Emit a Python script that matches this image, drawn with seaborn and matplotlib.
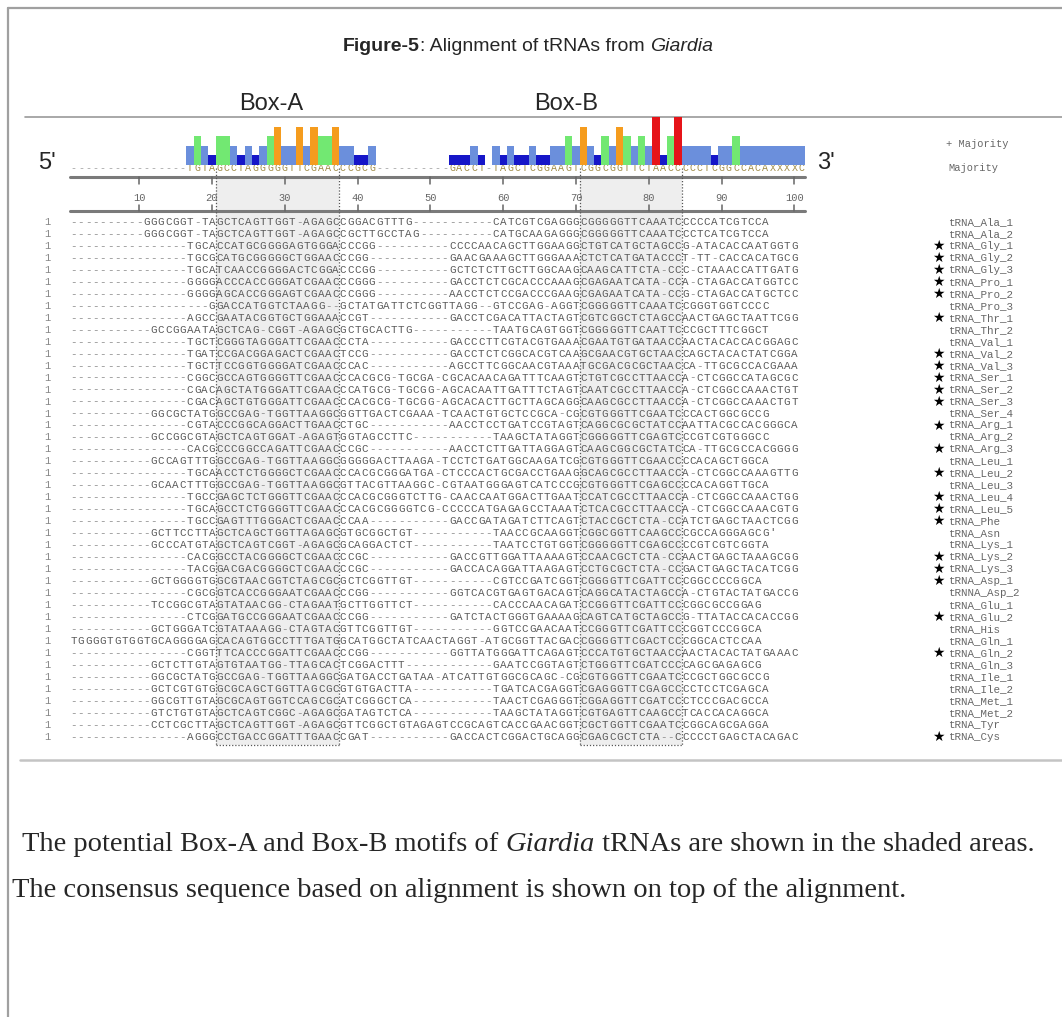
import matplotlib
matplotlib.use('Agg')
import matplotlib.pyplot as plt
import seaborn as sns
import pandas as pd
from matplotlib.patches import Rectangle

# Majority (consensus) sequence and bar strength per alignment column
majority = ('-' * 16 + 'TGTAGCCTAGGGGGTTCGAACCCGCG').ljust(52, '-') + \
    'GACCT-TAGCTCGGAAGTCGGCGGTTCTAACCCCCTCGGCCACAXXXXC'
majority_level = ([0] * 16 +
                  [2, 3, 2, 1, 3, 3, 2, 1, 2, 1, 2, 3, 4, 2, 2, 4, 2, 4, 3, 3, 4, 2, 2, 1, 1, 2] +
                  [0] * 10 +
                  [1, 1, 1, 2, 1, 0, 2, 1, 2, 1, 1, 2, 1, 1, 2, 2, 3, 2, 4, 2, 1, 3, 2, 4, 3, 2,
                   3, 2, 5, 1, 3, 5, 2, 2, 2, 2, 1, 2, 2, 3, 2, 2, 2, 2, 2, 2, 2, 2, 2])
level_colors = {'L1': '#1616c8', 'L2': '#6b8fdc', 'L3': '#72e872',
                'L4': '#f59c1e', 'L5': '#e61419'}

# aligned tRNA sequences: (start column, left block, start column of right block, right block)
segments = [
    (10, 'GGGCGGT-TAGCTCAGTTGGT-AGAGCCGGACGTTTG', 58, 'CATCGTCGAGGGCGGGGGTTCAAATCCCCCATCGTCCA'),
    (10, 'GGGCGGT-TAGCTCAGTTGGT-AGAGCCGCTTGCCTAG', 58, 'CATGCAAGAGGGCGGGGGTTCAAATCCCTCATCGTCCA'),
    (16, 'TGCACCATGCGGGGAGTGGGACCCGG', 52, 'CCCCAACAGCTTGGAAGGCTGTCATGCTAGCCG-ATACACCAATGGTG'),
    (16, 'TGCGCATGCGGGGGCTGGAACCCGG', 52, 'GAACGAAAGCTTGGGAAACTCTCATGATACCCT-TT-CACCACATGCG'),
    (16, 'TGCATCAACCGGGGACTCGGACCCGG', 52, 'GCTCTCTTGCTTGGCAAGCAAGCATTCTA-CCC-CTAAACCATTGATG'),
    (16, 'GGGGACCCACCGGGATCGAACCCGGG', 52, 'GACCTCTCGCACCCAAAGCGAGAATCATA-CCA-CTAGACCATGGTCC'),
    (16, 'GGGGAGCACCGGGAGTCGAACCCGGG', 52, 'AACCTCTCCGACCCGAAGCGAGAATCATA-CCG-CTAGACCATGCTCC'),
    (19, 'GGACCATGGTCTAAGG--GCTATGATTCTCGGTTAGG--GTCCGAG-AGGTCGGGGGTTCAAATCCGGGTGGTCCCC', None, ''),
    (16, 'AGCCGAATACGGTGCTGGAAACCGT', 52, 'GACCTCGACATTACTAGTCGTCGGCTCTAGCCAACTGAGCTAATTCGG'),
    (11, 'GCCGGAATAGCTCAG-CGGT-AGAGCGCTGCACTTG', 58, 'TAATGCAGTGGTCGGGGGTTCAATTCCCGCTTTCGGCT'),
    (16, 'TGCTCGGGTAGGGATTCGAACCCTA', 52, 'GACCCTTCGTACGTGAAACGAATGTGATAACCAACTACACCACGGAGC'),
    (16, 'TGATCCGACGGAGACTCGAACTCCG', 52, 'GACCTCTCGGCACGTCAAGCGAACGTGCTAACCAGCTACACTATCGGA'),
    (16, 'TGCTTCCGGTGGGGATCGAACCCAC', 52, 'AGCCTTCGGCAACGTAAATGCGACGCGCTAACCA-TTGCGCCACGAAA'),
    (16, 'CGGCGCCAGTGGGGTTCGAACCCACGCG-TGCGA-CGCACAACAGATTTCAAGTCTGTCGCCTTAACCA-CTCGGCCATAGCGC', None, ''),
    (16, 'CGACAGCTATGGGATTCGAACCCATGCG-TGCGG-AGCACAATTGATTTCTAGTCAATCGCCTTAACCA-CTCGGCCAAACTGT', None, ''),
    (16, 'CGACAGCTGTGGGATTCGAACCCACGCG-TGCGG-AGCACACTTGCTTAGCAGGCAAGCGCCTTAACCA-CTCGGCCAAACTGT', None, ''),
    (11, 'GGCGCTATGGCCGAG-TGGTTAAGGCGGTTGACTCGAAA-TCAACTGTGCTCCGCA-CGCGTGGGTTCGAATCCCACTGGCGCCG', None, ''),
    (16, 'CGTACCCGGCAGGACTTGAACCTGC', 52, 'AACCTCCTGATCCGTAGTCAGGCGCGCTATCCAATTACGCCACGGGCA'),
    (11, 'GCCGGCGTAGCTCAGTGGAT-AGAGTGGTAGCCTTC', 58, 'TAAGCTATAGGTCGGGGGTTCGAGTCCCGTCGTGGGCC'),
    (16, 'CACGCCCGGCCAGATTCGAACCCGC', 52, 'AACCTCTTGATTAGGAGTCAAGCGGCGCTATCCA-TTGCGCCACGGGG'),
    (11, 'GCCAGTTTGGCCGAG-TGGTTAAGGCGGGGGACTTAAGA-TCCTCTGATGGCAAGATCGCGTGGGTTCGAACCCCACAGCTGGCA', None, ''),
    (16, 'TGCAACCTCTGGGGCTCGAACCCACGCGGGATGA-CTCCCACTGCGACCTGAAGGCAGCGCCTTAACCA-CTCGGCCAAAGTTG', None, ''),
    (11, 'GCAACTTTGGCCGAG-TGGTTAAGGCGTTACGTTAAGGC-CGTAATGGGAGTCATCCCGCGTGGGTTCGAGCCCCACAGGTTGCA', None, ''),
    (16, 'TGCCGAGCTCTGGGTTCGAACCCACGCGGGTCTTG-CAACCAATGGACTTGAATCCATCGCCTTAACCA-CTCGGCCAAACTGG', None, ''),
    (16, 'TGCAGCCTCTGGGGTTCGAACCCACGCGGGGTCG-CCCCCATGAGAGCCTAAATCTCACGCCTTAACCA-CTCGGCCAAACGTG', None, ''),
    (16, 'TGCCGAGTTTGGGACTCGAACCCAA', 52, 'GACCGATAGATCTTCAGTCTACCGCTCTA-CCATCTGAGCTAACTCGG'),
    (11, 'GCTTCCTTAGCTCAGCTGGTTAGAGCGTGCGGCTGT', 58, "TAACCGCAAGGTCGGCGGTTCAAGCCCGCCAGGGAGCG'"),
    (11, 'GCCCATGTAGCTCAGTCGGT-AGAGCGCAGGACTCT', 58, 'TAATCCTGTGGTCGGGGGTTCGAGCCCCGTCGTCGGTA'),
    (16, 'CACGGCCTACGGGGCTCGAACCCGC', 52, 'GACCGTTGGATTAAAAGTCCAACGCTCTA-CCAACTGAGCTAAAGCGG'),
    (16, 'TACGGACGACGGGGCTCGAACCCGC', 52, 'GACCACAGGATTAAGAGTCCTGCGCTCTA-CCGACTGAGCTACATCGG'),
    (11, 'GCTGGGGTGGCGTAACGGTCTAGCGCGCTCGGTTGT', 58, 'CGTCCGATCGGTCGGGGTTCGATTCCCGGCCCCGGCA'),
    (16, 'CGCGGTCACCGGGAATCGAACCCGG', 52, 'GGTCACGTGAGTGACAGTCAGGCATACTAGCCA-CTGTACTATGACCG'),
    (11, 'TCCGGCGTAGTATAACGG-CTAGAATGCTTGGTTCT', 58, 'CACCCAACAGATCCGGGTTCGATTCCCGGCGCCGGAG'),
    (16, 'CTCGGATGCCGGGAATCGAACCCGG', 52, 'GATCTACTGGGTGAAAAGCAGTCATGCTAGCCG-TTATACCACACCGG'),
    (11, 'GCTGGGATCGTATAAAGG-CTAGTACGTTCGGTTGT', 58, 'GGTCCGAACAATCCGGGTTCGATTCCCGGTCCCGGCA'),
    (0, 'TGGGGTGTGGTGCAGGGGAGCACAGTGGCCTTTGATGGCATGGCTATCAACTAGGT-ATGCGGTTACGACCGGGGTTCGACTCCCGGCACTCCAA', None, ''),
    (16, 'CGGTTTCACCCGGATTCGAACCCGG', 52, 'GGTTATGGGATTCAGAGTCCCATGTGCTAACCAACTACACTATGAAAC'),
    (11, 'GCTCTTGTAGTGTAATGG-TTAGCACTCGGACTTT', 58, 'GAATCCGGTAGTCTGGGTTCGATCCCCAGCGAGAGCG'),
    (11, 'GGCGCTATGGCCGAG-TGGTTAAGGCGATGACCTGATAA-ATCATTGTGGCGCAGC-CGCGTGGGTTCGAATCCCGCTGGCGCCG', None, ''),
    (11, 'GCTCGTGTGGCGCAGCTGGTTAGCGCGTGTGACTTA', 58, 'TGATCACGAGGTCGAGGGTTCGAGCCCCTCCTCGAGCA'),
    (11, 'GGCGTTGTAGCGCAGTGGTCCAGCGCATCGGGCTCA', 58, 'TAACTCGAGGGTCGGAGGTTCGATCCCTCCCGACGCCA'),
    (11, 'GTCTGTGTAGCTCAGTCGGC-AGAGCGATAGTCTCA', 58, 'TAAGCTATAGGTCGTGAGTTCAAGCCTCACCACAGGCA'),
    (11, 'CCTCGCTTAGCTCAGTTGGT-AGAGCGTTCGGCTGTAGAGTCCGCAGTCACCGAACGGTCGCTGGTTCGAATCCGGCAGCGAGGA', None, ''),
    (16, 'AGGGCCTGACCGGATTTGAACCGAT', 52, 'GACCACTCGGACTGCAGGCGAGCGCTCTA--CCCCCTGAGCTACAGAC'),
]
labels = ['tRNA_Ala_1', 'tRNA_Ala_2', 'tRNA_Gly_1', 'tRNA_Gly_2', 'tRNA_Gly_3', 'tRNA_Pro_1',
          'tRNA_Pro_2', 'tRNA_Pro_3', 'tRNA_Thr_1', 'tRNA_Thr_2', 'tRNA_Val_1', 'tRNA_Val_2',
          'tRNA_Val_3', 'tRNA_Ser_1', 'tRNA_Ser_2', 'tRNA_Ser_3', 'tRNA_Ser_4', 'tRNA_Arg_1',
          'tRNA_Arg_2', 'tRNA_Arg_3', 'tRNA_Leu_1', 'tRNA_Leu_2', 'tRNA_Leu_3', 'tRNA_Leu_4',
          'tRNA_Leu_5', 'tRNA_Phe', 'tRNA_Asn', 'tRNA_Lys_1', 'tRNA_Lys_2', 'tRNA_Lys_3',
          'tRNA_Asp_1', 'tRNNA_Asp_2', 'tRNA_Glu_1', 'tRNA_Glu_2', 'tRNA_His', 'tRNA_Gln_1',
          'tRNA_Gln_2', 'tRNA_Gln_3', 'tRNA_Ile_1', 'tRNA_Ile_2', 'tRNA_Met_1', 'tRNA_Met_2',
          'tRNA_Tyr', 'tRNA_Cys']
starred = ['tRNA_Gly_1', 'tRNA_Gly_2', 'tRNA_Gly_3', 'tRNA_Pro_1', 'tRNA_Pro_2', 'tRNA_Thr_1',
           'tRNA_Val_2', 'tRNA_Val_3', 'tRNA_Ser_1', 'tRNA_Ser_2', 'tRNA_Ser_3', 'tRNA_Arg_1',
           'tRNA_Arg_3', 'tRNA_Leu_2', 'tRNA_Leu_4', 'tRNA_Leu_5', 'tRNA_Phe', 'tRNA_Lys_2',
           'tRNA_Lys_3', 'tRNA_Asp_1', 'tRNA_Glu_2', 'tRNA_Gln_2', 'tRNA_Cys']
ruler_ticks = [10, 20, 30, 40, 50, 60, 70, 80, 90, 100]
box_a = (20, 37)   # shaded column ranges
box_b = (70, 84)


def gapped(start, left, rstart, right):
    s = '-' * start + left
    if rstart is not None:
        s = s.ljust(rstart, '-') + right
    return s


alignment = [gapped(*seg) for seg in segments]

# layout (pixels)
W, H = 1062, 1017
PX = 7.28          # pixels per alignment column
X0 = 70            # pixel of the left edge of column 0
ROW0, ROWH = 222, 11.97


def cx(px):
    return (px - X0) / PX


sns.set_theme(style='white')
plt.rcParams['font.family'] = ['Liberation Sans', 'DejaVu Sans']
MONO = 'Liberation Mono'

fig = plt.figure(figsize=(W / 100, H / 100), dpi=100)
ax = fig.add_axes([0, 0, 1, 1])
ax.set_xlim(cx(0), cx(W))
ax.set_ylim(H, 0)
ax.axis('off')

# frame and separators
ax.plot([cx(8), cx(8)], [H, 8], color='#a0a0a0', lw=1.6)
ax.plot([cx(8), cx(W)], [8, 8], color='#a0a0a0', lw=1.6)
ax.plot([cx(25), cx(W)], [117, 117], color='#9a9a9a', lw=1.2)
ax.plot([cx(20), cx(W)], [760, 760], color='#c4c4c4', lw=1.8)

# title
t = ax.text(cx(343), 51, 'Figure-5', fontsize=14, fontweight='bold', va='baseline')
t = ax.annotate(': Alignment of tRNAs from ', xy=(1, 0), xycoords=t, fontsize=14, va='bottom')
ax.annotate('Giardia', xy=(1, 0), xycoords=t, fontsize=14, style='italic', va='bottom')

# box labels, 5'/3'
ax.text(cx(271), 104, 'Box-A', fontsize=17, ha='center', va='center')
ax.text(cx(566), 104, 'Box-B', fontsize=17, ha='center', va='center')
ax.text(cx(47), 163, "5'", fontsize=17, ha='center', va='center')
ax.text(cx(826), 163, "3'", fontsize=17, ha='center', va='center')

# shaded boxes
for lo, hi in (box_a, box_b):
    ax.add_patch(Rectangle((lo, 177), hi - lo, 745 - 177, fc='#eeeeee', ec='none', zorder=0))
    for xv in (lo, hi):
        ax.plot([xv, xv], [168, 745], ls=(0, (1, 1.5)), color='#555555', lw=0.9, zorder=3)
    ax.plot([lo, hi], [745, 745], ls=(0, (1, 1.5)), color='#555555', lw=0.9, zorder=3)

# consensus strength bars
bars = pd.DataFrame({'col': range(len(majority_level)), 'level': majority_level})
bars = bars[bars['level'] > 0].copy()
bars['pos'] = bars['col'] + 0.5
bars['tier'] = 'L' + bars['level'].astype(str)
axb = fig.add_axes([X0 / W, 1 - 165 / H, 101 * PX / W, 48 / H])
sns.barplot(data=bars, x='pos', y='level', hue='tier', palette=level_colors,
            native_scale=True, width=1, dodge=False, saturation=1, errorbar=None,
            linewidth=0, legend=False, ax=axb)
axb.set_xlim(0, 101)
axb.set_ylim(0, 5)
axb.axis('off')

# consensus sequence
for i, ch in enumerate(majority):
    ax.text(i + 0.5, 168, ch, family=MONO, fontsize=7.2, ha='center', va='center',
            color='#a08c48' if ch != '-' else '#a0a0a0')
ax.text(cx(946), 144, '+ Majority', family=MONO, fontsize=7.5, color='#666666', va='center')
ax.text(cx(948), 168, 'Majority', family=MONO, fontsize=7.5, color='#666666', va='center')

# ruler
ax.plot([0, 101], [177, 177], color='#7a7a7a', lw=2.2)
ax.plot([0, 101], [211, 211], color='#7a7a7a', lw=2.2)
for n in ruler_ticks:
    ax.plot([n - 0.5, n - 0.5], [177, 184], color='#666666', lw=1.1)
    ax.plot([n - 0.5, n - 0.5], [205, 211], color='#666666', lw=1.1)
    ax.text(n - 0.5, 198, str(n), family=MONO, fontsize=7.5, ha='center', va='center',
            color='#666666')

# aligned rows
for r, (seq, name) in enumerate(zip(alignment, labels)):
    y = ROW0 + r * ROWH
    ax.text(cx(47), y, '1', family=MONO, fontsize=7.5, ha='center', va='center', color='#888888')
    for i, ch in enumerate(seq):
        ax.text(i + 0.5, y, ch, family=MONO, fontsize=7.8, ha='center', va='center',
                color='#5a5a5a' if ch != '-' else '#8a8a8a')
    ax.text(cx(948), y, name, family=MONO, fontsize=7.8, va='center', color='#666666')
    if name in starred:
        ax.text(cx(938), y, '\u2605', family='DejaVu Sans', fontsize=10, ha='center',
                va='center', color='black')

# caption
serif = 'Liberation Serif'
t = ax.text(cx(22), 851, 'The potential Box-A and Box-B motifs of ', family=serif,
            fontsize=20.5, va='baseline')
t = ax.annotate('Giardia', xy=(1, 0), xycoords=t, family=serif, fontsize=20.5,
                style='italic', va='bottom')
ax.annotate(' tRNAs are shown in the shaded areas.', xy=(1, 0), xycoords=t, family=serif,
            fontsize=20.5, va='bottom')
ax.text(cx(12), 897, 'The consensus sequence based on alignment is shown on top of the alignment.',
        family=serif, fontsize=20.5, va='baseline')

fig.savefig('out.png', dpi=100)
